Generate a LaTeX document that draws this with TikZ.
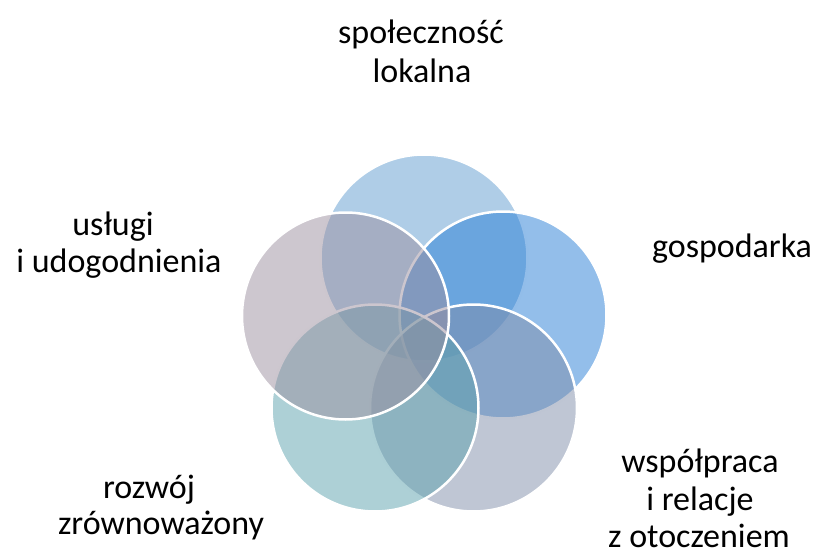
\documentclass[tikz,border=0pt]{standalone}
\usepackage{fontspec}
\setmainfont{Carlito}
\definecolor{ctop}{HTML}{5F9BCF}
\definecolor{cright}{HTML}{277DD5}
\definecolor{cbr}{HTML}{7F8DA9}
\definecolor{cbl}{HTML}{5BA1AD}
\definecolor{cleft}{HTML}{9B8F9F}
\begin{document}
\begin{tikzpicture}[x=1pt,y=-1pt,
  venn/.style={circle, inner sep=0pt, outer sep=0pt, minimum size=207pt,
    fill opacity=0.5, draw=white, draw opacity=1, line width=2.5pt},
  lbl/.style={anchor=base, inner sep=0pt, outer sep=0pt, text=black,
    font=\fontsize{34}{39}\selectfont}]
\useasboundingbox (0,0) rectangle (817,554);
% circles, in stacking order
\node[venn, fill=ctop]   (ctopn)   at (424,258) {};
\node[venn, fill=cright] (crightn) at (503,315) {};
\node[venn, fill=cbr]    (cbrn)    at (473.5,408) {};
\node[venn, fill=cbl]    (cbln)    at (375,408) {};
\node[venn, fill=cleft]  (cleftn)  at (345.5,316) {};
% labels
\node[lbl] (t1a) at (421,43) {społeczność};
\node[lbl] (t1b) at (422,82) {lokalna};
\node[lbl] (t2)  at (732,257) {gospodarka};
\node[lbl] (t3a) at (700,472) {współpraca};
\node[lbl] (t3b) at (700,510) {i relacje};
\node[lbl, text depth=0pt] (t3c) at (699,547) {z otoczeniem};
\node[lbl] (t4a) at (149,498) {rozwój};
\node[lbl] (t4b) at (161,534) {zrównoważony};
\node[lbl] (t5a) at (113,235) {usługi};
\node[lbl] (t5b) at (119,272) {i udogodnienia};
\end{tikzpicture}
\end{document}
